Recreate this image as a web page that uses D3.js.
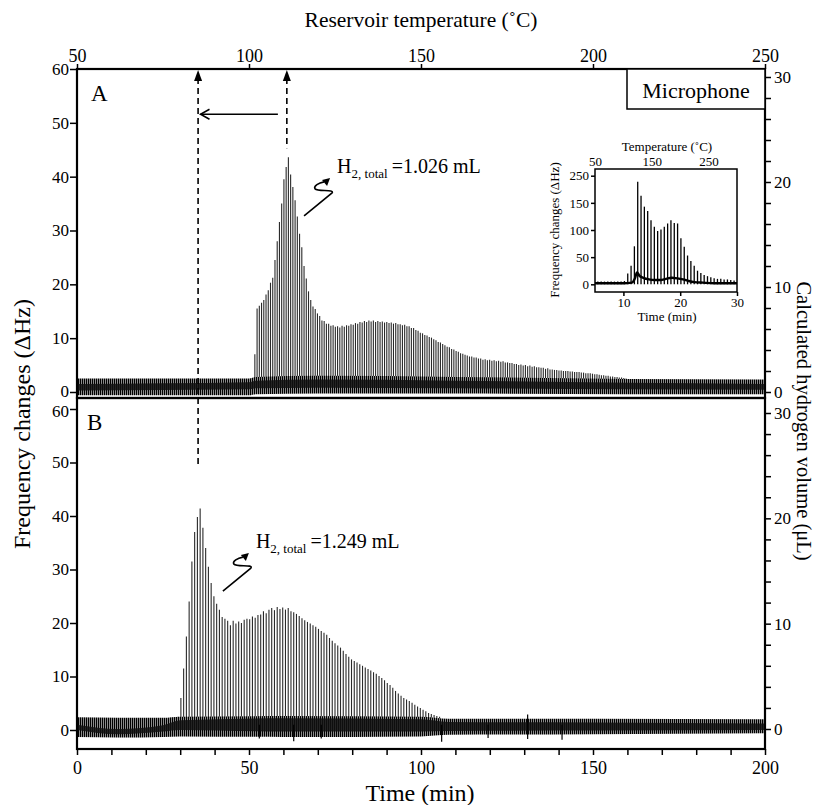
<!DOCTYPE html>
<html>
<head>
<meta charset="utf-8">
<script src="https://cdnjs.cloudflare.com/ajax/libs/d3/7.8.5/d3.min.js"></script>
<style>
  body { margin: 0; background: #fff; }
  svg text { font-family: 'Liberation Serif', 'Times New Roman', serif; fill: #000; }
</style>
</head>
<body>
<div id="chart"></div>
<script>
// ---- axes ----
const timeTicks = d3.range(0, 201, 10)
const tempTicks = [50, 100, 150, 200, 250]
const freqTicks = [0, 10, 20, 30, 40, 50, 60]
const volTicks = d3.range(0, 31, 2)

// ---- panel A: pulse heights (ΔHz), one pulse every 0.65 min from 51.7 min ----
const pulseStartA = 51.7
const pulseStepA = 0.65
const pulsesA = [7, 15.5, 16.0, 16.6, 17.1, 18.1, 18.9, 20.3, 21.2, 24.5,
  28.0, 31.6, 35.0, 39.5, 41.8, 43.6, 40.4, 38.1, 35.6, 32.6,
  29.4, 26.9, 23.4, 21.1, 18.7, 17.1, 15.9, 15.4, 14.6, 14.1,
  13.3, 13.2, 12.7, 12.7, 12.3, 12.4, 12.1, 12.2, 12.0, 12.3,
  12.1, 12.4, 12.3, 12.6, 12.5, 12.8, 12.7, 13.0, 12.9, 13.2,
  13.0, 13.3, 13.1, 13.3, 13.0, 13.2, 13.0, 13.1, 12.9, 13.0,
  12.8, 12.9, 12.7, 12.8, 12.6, 12.6, 12.4, 12.5, 12.2, 12.2,
  11.9, 11.9, 11.5, 11.4, 11.0, 10.9, 10.6, 10.5, 10.2, 10.1,
  9.8, 9.6, 9.3, 9.2, 8.9, 8.7, 8.4, 8.3, 8.0, 7.9,
  7.6, 7.5, 7.2, 7.1, 6.9, 6.8, 6.6, 6.6, 6.4, 6.4,
  6.2, 6.2, 6.0, 6.1, 5.9, 6.0, 5.8, 5.9, 5.7, 5.8,
  5.6, 5.7, 5.5, 5.5, 5.4, 5.4, 5.2, 5.2, 5.0, 5.1,
  4.9, 5.0, 4.8, 4.9, 4.7, 4.8, 4.6, 4.6, 4.5, 4.5,
  4.3, 4.4, 4.2, 4.2, 4.1, 4.1, 4.0, 4.0, 3.9, 3.9,
  3.9, 3.8, 3.8, 3.7, 3.7, 3.7, 3.6, 3.6, 3.5, 3.5,
  3.5, 3.4, 3.3, 3.3, 3.2, 3.1, 3.1, 3.0, 3.0, 2.9,
  2.9, 2.8, 2.8, 2.7, 2.7, 2.6, 2.5, 2.4, 2.3, 2.2, 2.2]

// baseline noise band of panel A
const bandTimeA = [0, 50, 52, 70, 110, 160, 200]
const bandHighA = [2.5, 2.5, 2.8, 3.0, 2.8, 2.4, 2.3]
const bandLowA = [-0.6, -0.6, -0.4, -0.3, -0.3, -0.4, -0.4]
const coreHighA = [1.5, 1.8, 2.1, 2.3, 2.1, 1.7, 1.5]
const coreLowA = [0.3, 0.5, 0.7, 0.8, 0.7, 0.5, 0.4]

// ---- panel B: one pulse every 0.8 min from 29.4 min ----
const pulseStartB = 29.4
const pulseStepB = 0.8
const pulsesB = [2.5, 6.0, 11.5, 17.5, 24.0, 31.5, 37.0, 39.8, 41.4, 37.8,
  34.0, 30.5, 27.5, 25.0, 23.6, 22.5, 21.1, 20.8, 20.4, 19.6,
  20.4, 19.9, 20.3, 20.0, 20.6, 20.8, 20.7, 21.2, 21.0, 21.5,
  21.6, 22.2, 21.8, 22.5, 22.8, 22.4, 23.0, 22.6, 22.9, 22.5,
  22.8, 22.2, 22.0, 21.7, 21.3, 20.9, 20.5, 20.2, 19.9, 19.6,
  19.3, 18.9, 18.5, 18.2, 17.8, 17.2, 16.7, 16.2, 15.8, 15.4,
  14.8, 14.2, 13.7, 13.2, 12.9, 12.6, 12.3, 12.0, 11.7, 11.4,
  11.1, 10.8, 10.5, 10.1, 9.7, 9.3, 8.8, 8.4, 7.9, 7.3,
  6.8, 6.4, 6.0, 5.7, 5.4, 5.1, 4.7, 4.4, 4.1, 3.8,
  3.5, 3.2, 3.0, 2.8, 2.6, 2.5]

const bandTimeB = [0, 12, 25, 30, 60, 100, 108, 150, 200]
const bandHighB = [2.4, 2.3, 2.3, 2.5, 2.6, 2.5, 2.1, 2.1, 2.0]
const bandLowB = [-1.3, -1.4, -1.3, -1.2, -1.3, -1.2, -0.9, -0.8, -0.6]
const coreHighB = [1.0, 0.2, 0.9, 1.8, 2.2, 2.0, 1.5, 1.4, 1.2]
const coreLowB = [0.0, -0.8, -0.3, 0.0, -0.3, -0.3, -0.2, -0.1, 0.0]
// isolated glitches in panel B
const glitchTimeB = [53, 63, 71, 106, 119.5, 131, 141]
const glitchLowB = [-1.6, -2.1, -1.6, -2.2, -1.5, -1.7, -1.8]
const glitchHighB = [1, 1, 1, 1, 1, 2.9, 1]

// ---- inset ----
const insetPulseStart = 5.5
const insetPulseStep = 0.585
const insetPulses = [5, 5, 5, 5, 5, 5, 5, 5, 6,
  20, 34, 70, 189, 163, 143, 135, 118, 106, 98, 101, 106, 112, 118, 113, 112,
  85, 69, 53, 43, 34, 25, 21, 17, 15, 13, 11, 10, 10, 9, 9, 8, 7]
const insetBaseTime = [5, 10, 11.5, 12.0, 12.4, 12.8, 13.5, 14.5, 15.5, 16.5, 17.5, 18.5, 19.5, 20.5, 21.5, 22.5, 24, 26, 30]
const insetBaseValue = [2, 2, 3, 10, 22, 16, 12, 9, 8, 8, 10, 12, 11, 9, 6, 4, 3, 2, 2]
const insetTimeTicks = [10, 20, 30]
const insetTempTicks = [50, 150, 250]
const insetFreqTicks = [0, 50, 100, 150, 200]
const insetFreqLabels = ['0', '50', '100', '150', '250']

// ---- markers ----
const dashTimes = [35.2, 61.0]
const annotations = [
  { panel: 'A', t: 75.6, v: 40.7, text: '=1.026 mL' },
  { panel: 'B', t: 52.0, v: 34.0, text: '=1.249 mL' }
]

const svg = d3.select('#chart').append('svg')
  .attr('width', 825)
  .attr('height', 805)
const defs = svg.append('defs')

const hatch = defs.append('pattern')
  .attr('id', 'hatch')
  .attr('width', 2)
  .attr('height', 6)
  .attr('patternUnits', 'userSpaceOnUse')
hatch.append('rect').attr('width', 2).attr('height', 6).attr('fill', '#8a8a8a')
hatch.append('rect').attr('width', 1).attr('height', 6).attr('fill', '#000')

const x = d3.scaleLinear().domain([0, 200]).range([77, 765])
const xTemp = d3.scaleLinear().domain([50, 250]).range([77, 765])
const yA = d3.scaleLinear().domain([0, 60]).range([392, 69])
const yARight = d3.scaleLinear().domain([0, 30]).range([392, 77])
const yB = d3.scaleLinear().domain([0, 60]).range([730, 409])
const yBRight = d3.scaleLinear().domain([0, 30]).range([729, 413])

function styleAxis (g, size) {
  g.select('.domain').remove()
  g.selectAll('.tick line').attr('stroke', '#000').attr('stroke-width', 1.5)
  g.selectAll('.tick text').attr('font-size', size).attr('fill', '#000')
    .attr('font-family', "'Liberation Serif', serif")
}

function drawPanel (cfg) {
  const clipId = 'clip' + cfg.name
  defs.append('clipPath').attr('id', clipId).append('rect')
    .attr('x', x(0)).attr('y', cfg.top)
    .attr('width', x(200) - x(0)).attr('height', cfg.bottom - cfg.top)
  const plot = svg.append('g').attr('clip-path', `url(#${clipId})`)

  // pulses
  plot.selectAll('line.pulse')
    .data(cfg.pulses)
    .enter()
    .append('line')
    .attr('class', 'pulse')
    .attr('x1', (d, i) => x(cfg.start + i * cfg.step))
    .attr('x2', (d, i) => x(cfg.start + i * cfg.step))
    .attr('y1', cfg.y(0.5))
    .attr('y2', d => cfg.y(d))
    .attr('stroke', '#2a2a2a')
    .attr('stroke-width', 1.1)

  const band = cfg.bandTime.map((t, i) => ({ t: t, lo: cfg.bandLow[i], hi: cfg.bandHigh[i], clo: cfg.coreLow[i], chi: cfg.coreHigh[i] }))
  plot.append('path')
    .datum(band)
    .attr('d', d3.area().x(d => x(d.t)).y0(d => cfg.y(d.lo)).y1(d => cfg.y(d.hi)).curve(d3.curveMonotoneX))
    .attr('fill', 'url(#hatch)')
  plot.append('path')
    .datum(band)
    .attr('d', d3.area().x(d => x(d.t)).y0(d => cfg.y(d.clo)).y1(d => cfg.y(d.chi)).curve(d3.curveMonotoneX))
    .attr('fill', '#111')
    .attr('opacity', 0.85)

  if (cfg.glitchTime) {
    plot.selectAll('line.glitch')
      .data(cfg.glitchTime)
      .enter()
      .append('line')
      .attr('x1', d => x(d))
      .attr('x2', d => x(d))
      .attr('y1', (d, i) => cfg.y(cfg.glitchLow[i]))
      .attr('y2', (d, i) => cfg.y(cfg.glitchHigh[i]))
      .attr('stroke', '#000')
      .attr('stroke-width', 1.2)
  }

  // left / right axes
  svg.append('g')
    .attr('transform', `translate(${x(0)},0)`)
    .call(d3.axisLeft(cfg.y).tickValues(freqTicks).tickSize(7).tickPadding(1))
    .call(g => styleAxis(g, 17))
    .call(g => g.selectAll('.tick text').attr('dy', d => d === cfg.nudgeTick ? cfg.nudge : '0.32em'))
  svg.append('g')
    .attr('transform', `translate(${x(200)},0)`)
    .call(d3.axisRight(cfg.yRight).tickValues(volTicks).tickSize(6).tickPadding(3)
      .tickFormat(d => d % 10 === 0 ? d : ''))
    .call(g => styleAxis(g, 17))

  svg.append('rect')
    .attr('x', x(0)).attr('y', cfg.top)
    .attr('width', x(200) - x(0)).attr('height', cfg.bottom - cfg.top)
    .attr('fill', 'none')
    .attr('stroke', '#000')
    .attr('stroke-width', 2.2)

  svg.append('text')
    .attr('x', x(0) + cfg.labelDx)
    .attr('y', cfg.top + 32)
    .attr('font-size', 23)
    .text(cfg.name)
}

drawPanel({
  name: 'A', top: 69, bottom: 398, y: yA, yRight: yARight, labelDx: 14,
  nudgeTick: 0, nudge: '0.25em',
  pulses: pulsesA, start: pulseStartA, step: pulseStepA,
  bandTime: bandTimeA, bandHigh: bandHighA, bandLow: bandLowA, coreHigh: coreHighA, coreLow: coreLowA
})
drawPanel({
  name: 'B', top: 398, bottom: 749, y: yB, yRight: yBRight, labelDx: 10,
  nudgeTick: 60, nudge: '0.42em',
  pulses: pulsesB, start: pulseStartB, step: pulseStepB,
  bandTime: bandTimeB, bandHigh: bandHighB, bandLow: bandLowB, coreHigh: coreHighB, coreLow: coreLowB,
  glitchTime: glitchTimeB, glitchLow: glitchLowB, glitchHigh: glitchHighB
})

// bottom time axis and top temperature axis
svg.append('g')
  .attr('transform', 'translate(0,749)')
  .call(d3.axisBottom(x).tickValues(timeTicks).tickSize(6).tickPadding(6)
    .tickFormat(d => d % 50 === 0 ? d : ''))
  .call(g => styleAxis(g, 18))
svg.append('g')
  .attr('transform', 'translate(0,69)')
  .call(d3.axisTop(xTemp).tickValues(tempTicks).tickSize(5).tickPadding(2))
  .call(g => styleAxis(g, 18))

// axis titles
svg.append('text')
  .attr('x', 421).attr('y', 27)
  .attr('text-anchor', 'middle')
  .attr('font-size', 21.5)
  .text('Reservoir temperature (˚C)')
svg.append('text')
  .attr('x', 420).attr('y', 801)
  .attr('text-anchor', 'middle')
  .attr('font-size', 24)
  .text('Time (min)')
svg.append('text')
  .attr('transform', 'translate(30,424) rotate(-90)')
  .attr('text-anchor', 'middle')
  .attr('font-size', 24)
  .text('Frequency changes (ΔHz)')
svg.append('text')
  .attr('transform', 'translate(797,421) rotate(90)')
  .attr('text-anchor', 'middle')
  .attr('font-size', 20.5)
  .text('Calculated hydrogen volume (μL)')

// microphone label box
svg.append('rect')
  .attr('x', 627).attr('y', 69)
  .attr('width', x(200) - 627).attr('height', 40)
  .attr('fill', '#fff')
  .attr('stroke', '#000')
  .attr('stroke-width', 1.5)
svg.append('text')
  .attr('x', 696).attr('y', 98)
  .attr('text-anchor', 'middle')
  .attr('font-size', 22)
  .text('Microphone')

// dashed guide lines with arrowheads
const dashEnds = [yB(49.5), yA(45.3)]
dashTimes.forEach((t, i) => {
  svg.append('line')
    .attr('x1', x(t)).attr('x2', x(t))
    .attr('y1', yA(60) + 9).attr('y2', dashEnds[i])
    .attr('stroke', '#000')
    .attr('stroke-width', 1.6)
    .attr('stroke-dasharray', '6,4')
  svg.append('path')
    .attr('d', `M${x(t)},${yA(60) + 1}l-4,11h8z`)
    .attr('fill', '#000')
})
// shift arrow (right dashed line -> left dashed line)
const arrowY = yA(51.6)
svg.append('line')
  .attr('x1', x(58.4)).attr('x2', x(35.9))
  .attr('y1', arrowY).attr('y2', arrowY)
  .attr('stroke', '#000')
  .attr('stroke-width', 1.5)
svg.append('path')
  .attr('d', `M${x(35.9) + 9},${arrowY - 5}L${x(35.9)},${arrowY}L${x(35.9) + 9},${arrowY + 5}`)
  .attr('fill', 'none')
  .attr('stroke', '#000')
  .attr('stroke-width', 1.5)

// hydrogen totals with curly pointers
annotations.forEach(a => {
  const y = a.panel === 'A' ? yA : yB
  const ax = x(a.t)
  const ay = y(a.v)
  const g = svg.append('g').attr('transform', `translate(${ax},${ay})`)
  const t = g.append('text').attr('font-size', 20)
  t.append('tspan').text('H')
  t.append('tspan').attr('font-size', 13).attr('dy', 5).text('2, total')
  t.append('tspan').attr('dy', -5).attr('dx', 4).text(a.text)
  g.append('path')
    .attr('d', 'M-33,43L-5,20C-2,16 -19,19 -22,16C-24,13 -18,10 -13,9')
    .attr('fill', 'none')
    .attr('stroke', '#000')
    .attr('stroke-width', 1.6)
  g.append('path')
    .attr('d', 'M-7,5L-15,7L-10,13Z')
    .attr('fill', '#000')
})

// ---- inset ----
const ix = d3.scaleLinear().domain([5, 30]).range([595, 737])
const iTemp = d3.scaleLinear().domain([50, 300]).range([595, 737])
const iy = d3.scaleLinear().domain([0, 200]).range([284.3, 175.7])
const inset = svg.append('g')
inset.append('rect')
  .attr('x', 595).attr('y', 169).attr('width', 142).attr('height', 123)
  .attr('fill', '#fff')
inset.selectAll('line.ipulse')
  .data(insetPulses)
  .enter()
  .append('line')
  .attr('x1', (d, i) => ix(insetPulseStart + i * insetPulseStep))
  .attr('x2', (d, i) => ix(insetPulseStart + i * insetPulseStep))
  .attr('y1', iy(0))
  .attr('y2', d => iy(d))
  .attr('stroke', '#000')
  .attr('stroke-width', 1.3)
inset.append('path')
  .datum(insetBaseTime.map((t, i) => [t, insetBaseValue[i]]))
  .attr('d', d3.line().x(d => ix(d[0])).y(d => iy(d[1])).curve(d3.curveMonotoneX))
  .attr('fill', 'none')
  .attr('stroke', '#000')
  .attr('stroke-width', 2.4)
inset.append('rect')
  .attr('x', 595).attr('y', 169).attr('width', 142).attr('height', 123)
  .attr('fill', 'none')
  .attr('stroke', '#000')
  .attr('stroke-width', 1.5)
inset.append('g')
  .attr('transform', 'translate(595,0)')
  .call(d3.axisLeft(iy).tickValues(insetFreqTicks).tickSize(4).tickPadding(2)
    .tickFormat((d, i) => insetFreqLabels[i]))
  .call(g => styleAxis(g, 13))
inset.append('g')
  .attr('transform', 'translate(0,292)')
  .call(d3.axisBottom(ix).tickValues(insetTimeTicks).tickSize(4).tickPadding(2))
  .call(g => styleAxis(g, 13))
inset.append('g')
  .attr('transform', 'translate(0,169)')
  .call(d3.axisTop(iTemp).tickValues(insetTempTicks).tickSize(0).tickPadding(3))
  .call(g => styleAxis(g, 13))
inset.append('text')
  .attr('x', 667).attr('y', 151)
  .attr('text-anchor', 'middle')
  .attr('font-size', 13)
  .text('Temperature (˚C)')
inset.append('text')
  .attr('x', 667).attr('y', 321)
  .attr('text-anchor', 'middle')
  .attr('font-size', 13)
  .text('Time (min)')
inset.append('text')
  .attr('transform', 'translate(559,230) rotate(-90)')
  .attr('text-anchor', 'middle')
  .attr('font-size', 13)
  .text('Frequency changes (ΔHz)')
</script>
</body>
</html>
